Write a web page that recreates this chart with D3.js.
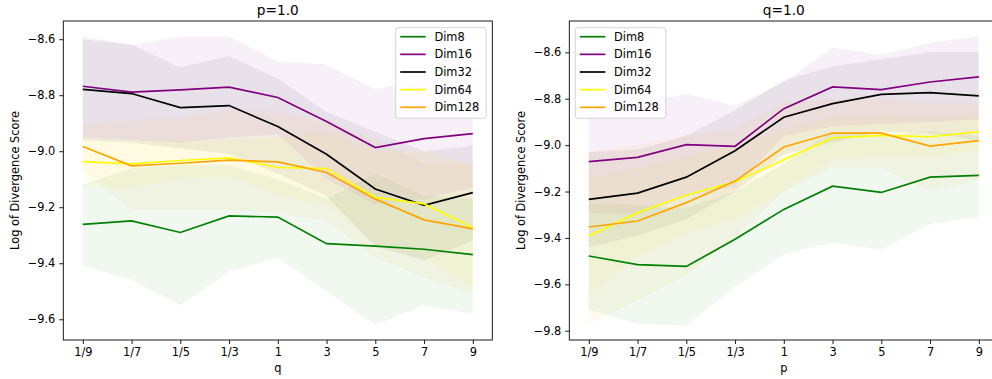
<!DOCTYPE html>
<html>
<head>
<meta charset="utf-8">
<script src="https://cdn.jsdelivr.net/npm/d3@7"></script>
<style>
  body { margin: 0; background: #fff; }
  svg { font-family: "DejaVu Sans", sans-serif; }
</style>
</head>
<body>
<div id="chart"></div>
<script>
// categories
let xLabels = ["1/9", "1/7", "1/5", "1/3", "1", "3", "5", "7", "9"];
let seriesNames = ["Dim8", "Dim16", "Dim32", "Dim64", "Dim128"];
let seriesColors = ["green", "purple", "black", "yellow", "orange"];

// left panel (p=1.0, q varies): means and band edges
let qDim8 = [-9.261, -9.249, -9.290, -9.231, -9.235, -9.330, -9.339, -9.350, -9.369];
let qDim16 = [-8.768, -8.789, -8.781, -8.771, -8.808, -8.894, -8.987, -8.955, -8.937];
let qDim32 = [-8.779, -8.794, -8.844, -8.837, -8.912, -9.011, -9.135, -9.193, -9.148];
let qDim64 = [-9.037, -9.045, -9.033, -9.024, -9.058, -9.062, -9.165, -9.188, -9.273];
let qDim128 = [-8.983, -9.052, -9.043, -9.032, -9.038, -9.076, -9.171, -9.245, -9.277];

let qDim8Hi = [-9.12, -9.06, -9.05, -9.05, -9.10, -9.17, -9.08, -9.16, -9.17];
let qDim8Lo = [-9.41, -9.46, -9.55, -9.43, -9.38, -9.50, -9.62, -9.55, -9.58];
let qDim16Hi = [-8.59, -8.62, -8.59, -8.59, -8.68, -8.69, -8.78, -8.74, -8.74];
let qDim16Lo = [-8.95, -8.96, -8.97, -8.95, -8.94, -9.10, -9.19, -9.17, -9.13];
let qDim32Hi = [-8.60, -8.62, -8.70, -8.66, -8.74, -8.86, -8.93, -9.00, -8.98];
let qDim32Lo = [-8.96, -8.97, -8.99, -9.01, -9.08, -9.16, -9.34, -9.39, -9.32];
let qDim64Hi = [-8.95, -8.96, -8.96, -8.96, -8.95, -8.93, -9.00, -9.00, -9.05];
let qDim64Lo = [-9.13, -9.13, -9.10, -9.09, -9.16, -9.19, -9.33, -9.38, -9.49];
let qDim128Hi = [-8.90, -8.89, -8.88, -8.85, -8.86, -8.90, -8.96, -9.04, -9.04];
let qDim128Lo = [-9.07, -9.21, -9.21, -9.21, -9.22, -9.25, -9.38, -9.45, -9.51];

// right panel (q=1.0, p varies)
let pDim8 = [-9.478, -9.515, -9.523, -9.406, -9.277, -9.177, -9.204, -9.138, -9.130];
let pDim16 = [-9.071, -9.053, -8.998, -9.005, -8.843, -8.749, -8.761, -8.728, -8.706];
let pDim32 = [-9.234, -9.207, -9.138, -9.024, -8.880, -8.821, -8.781, -8.774, -8.788];
let pDim64 = [-9.392, -9.291, -9.215, -9.158, -9.063, -8.969, -8.958, -8.964, -8.942];
let pDim128 = [-9.353, -9.327, -9.248, -9.155, -9.008, -8.948, -8.948, -9.004, -8.981];

let pDim8Hi = [-9.25, -9.26, -9.27, -9.20, -9.08, -8.94, -8.96, -8.94, -8.96];
let pDim8Lo = [-9.71, -9.77, -9.78, -9.61, -9.47, -9.42, -9.45, -9.34, -9.31];
let pDim16Hi = [-8.85, -8.82, -8.78, -8.83, -8.73, -8.58, -8.61, -8.56, -8.53];
let pDim16Lo = [-9.29, -9.30, -9.22, -9.18, -8.96, -8.92, -8.91, -8.90, -8.89];
let pDim32Hi = [-9.03, -9.02, -8.96, -8.85, -8.72, -8.66, -8.63, -8.60, -8.60];
let pDim32Lo = [-9.44, -9.39, -9.32, -9.20, -9.04, -8.99, -8.94, -8.95, -8.98];
let pDim64Hi = [-9.14, -9.10, -9.05, -9.00, -8.93, -8.88, -8.87, -8.88, -8.87];
let pDim64Lo = [-9.64, -9.48, -9.38, -9.32, -9.20, -9.06, -9.05, -9.05, -9.02];
let pDim128Hi = [-9.03, -9.00, -8.96, -8.93, -8.82, -8.80, -8.80, -8.82, -8.82];
let pDim128Lo = [-9.77, -9.67, -9.56, -9.40, -9.20, -9.10, -9.10, -9.20, -9.15];

// y tick values
let qTicks = [-8.6, -8.8, -9.0, -9.2, -9.4, -9.6];
let pTicks = [-8.6, -8.8, -9.0, -9.2, -9.4, -9.6, -9.8];

let svg = d3.select("#chart").append("svg")
    .attr("width", 992)
    .attr("height", 379);

let fmt = d3.format(".1f");

function drawPanel(cfg) {
    let x = d3.scalePoint()
        .domain(xLabels)
        .range([cfg.left, cfg.left + 429])
        .padding(0.4);
    let y = d3.scaleLinear()
        .domain(cfg.yDomain)
        .range([340, 21]);

    let clipId = "clip" + cfg.id;
    svg.append("clipPath").attr("id", clipId)
        .append("rect")
        .attr("x", cfg.left).attr("y", 21)
        .attr("width", 429).attr("height", 319);

    let g = svg.append("g").attr("clip-path", "url(#" + clipId + ")");

    // shaded bands first, lines on top
    let area = d3.area()
        .x(function(d, i) { return x(xLabels[i]); })
        .y0(function(d) { return y(d[0]); })
        .y1(function(d) { return y(d[1]); });
    cfg.lo.forEach(function(lo, s) {
        let pts = lo.map(function(v, i) { return [v, cfg.hi[s][i]]; });
        g.append("path")
            .attr("d", area(pts))
            .attr("fill", seriesColors[s])
            .attr("fill-opacity", 0.06);
    });

    let line = d3.line()
        .x(function(d, i) { return x(xLabels[i]); })
        .y(function(d) { return y(d); });
    cfg.means.forEach(function(vals, s) {
        g.append("path")
            .attr("d", line(vals))
            .attr("fill", "none")
            .attr("stroke", seriesColors[s])
            .attr("stroke-width", 1.7);
    });

    // frame
    svg.append("rect")
        .attr("x", cfg.left).attr("y", 21)
        .attr("width", 429).attr("height", 319)
        .attr("fill", "none")
        .attr("stroke", "black")
        .attr("stroke-width", 0.9);

    // axes
    let xAxis = svg.append("g")
        .attr("transform", "translate(0,340)")
        .call(d3.axisBottom(x).tickSize(4).tickPadding(4));
    let yAxis = svg.append("g")
        .attr("transform", "translate(" + cfg.left + ",0)")
        .call(d3.axisLeft(y).tickValues(cfg.ticks).tickFormat(fmt).tickSize(4).tickPadding(4));
    [xAxis, yAxis].forEach(function(a) {
        a.select(".domain").remove();
        a.selectAll("text")
            .style("font-family", "DejaVu Sans")
            .style("font-size", "11.4px")
            .attr("fill", "black");
        a.selectAll("line").attr("stroke", "black").attr("stroke-width", 0.9);
    });

    // title
    svg.append("text")
        .attr("x", cfg.left + 429 / 2)
        .attr("y", 15)
        .style("text-anchor", "middle")
        .style("font-size", "13.7px")
        .text(cfg.title);

    // x label
    svg.append("text")
        .attr("x", cfg.left + 429 / 2)
        .attr("y", 372)
        .style("text-anchor", "middle")
        .style("font-size", "11.4px")
        .text(cfg.xLabel);

    // y label
    svg.append("text")
        .attr("transform", "rotate(-90)")
        .attr("x", -180.5)
        .attr("y", cfg.yLabelX)
        .attr("dy", "0.35em")
        .style("text-anchor", "middle")
        .style("font-size", "11.4px")
        .text("Log of Divergence Score");

    // legend
    let leg = svg.append("g")
        .attr("transform", "translate(" + cfg.legX + ",27.7)");
    leg.append("rect")
        .attr("width", 90.5).attr("height", 90.6)
        .attr("rx", 2.5)
        .attr("fill", "white").attr("fill-opacity", 0.8)
        .attr("stroke", "#d0d0d0").attr("stroke-width", 0.9);
    seriesNames.forEach(function(name, s) {
        let yy = 9 + s * 17.65;
        leg.append("line")
            .attr("x1", 4.5).attr("x2", 30)
            .attr("y1", yy).attr("y2", yy)
            .attr("stroke", seriesColors[s])
            .attr("stroke-width", 1.7);
        leg.append("text")
            .attr("x", 38.7).attr("y", yy)
            .attr("dy", "0.36em")
            .style("font-size", "11.4px")
            .text(name);
    });
}

drawPanel({
    id: "q", left: 63.3, yDomain: [-9.674, -8.535], ticks: qTicks,
    title: "p=1.0", xLabel: "q", yLabelX: 15.3, legX: 395.7,
    means: [qDim8, qDim16, qDim32, qDim64, qDim128],
    lo: [qDim8Lo, qDim16Lo, qDim32Lo, qDim64Lo, qDim128Lo],
    hi: [qDim8Hi, qDim16Hi, qDim32Hi, qDim64Hi, qDim128Hi]
});

drawPanel({
    id: "p", left: 569.3, yDomain: [-9.84, -8.465], ticks: pTicks,
    title: "q=1.0", xLabel: "p", yLabelX: 521.3, legX: 575.3,
    means: [pDim8, pDim16, pDim32, pDim64, pDim128],
    lo: [pDim8Lo, pDim16Lo, pDim32Lo, pDim64Lo, pDim128Lo],
    hi: [pDim8Hi, pDim16Hi, pDim32Hi, pDim64Hi, pDim128Hi]
});
</script>
</body>
</html>
